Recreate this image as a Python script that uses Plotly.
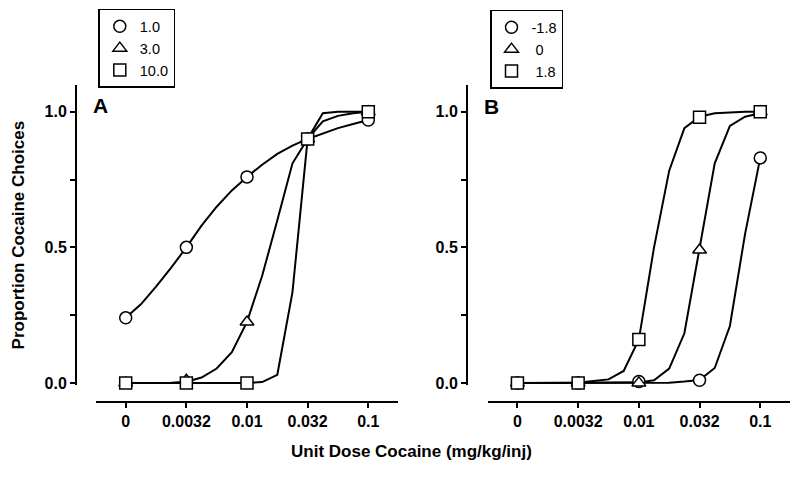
"""
Cocaine dose-response curves, panels A and B.
"""

import plotly.graph_objects as go

# x categories (drawn on an evenly spaced index axis)
dose_labels = ["0", "0.0032", "0.01", "0.032", "0.1"]
dose_pos = [0, 1, 2, 3, 4]

# positions of the fitted-curve vertices
fit_pos = [0, 0.25, 0.5, 0.75, 1, 1.25, 1.5, 1.75, 2,
           2.25, 2.5, 2.75, 3, 3.25, 3.5, 3.75, 4]

# panel A – observed points
a_names = ["1.0", "3.0", "10.0"]
a_circle = [0.24, 0.50, 0.76, 0.90, 0.97]
a_triangle = [0.0, 0.01, 0.225, 0.90, 1.0]
a_square = [0.0, 0.0, 0.0, 0.90, 1.0]

# panel A – fitted curves
a_circle_fit = [0.24, 0.29, 0.355, 0.425, 0.50, 0.58, 0.65, 0.71, 0.76,
                0.805, 0.845, 0.875, 0.90, 0.92, 0.94, 0.955, 0.97]
a_triangle_fit = [0.0, 0.0, 0.0, 0.001, 0.004, 0.02, 0.053, 0.113, 0.225,
                  0.395, 0.60, 0.81, 0.90, 0.965, 0.985, 0.995, 1.0]
a_square_fit = [0.0, 0.0, 0.0, 0.0, 0.0, 0.0, 0.0, 0.0, 0.0,
                0.003, 0.03, 0.335, 0.90, 0.995, 1.0, 1.0, 1.0]

# panel B – observed points
b_names = ["-1.8", "\u00a00", "\u00a01.8"]
b_circle = [0.0, 0.0, 0.005, 0.01, 0.83]
b_triangle = [0.0, 0.0, 0.0, 0.49, 1.0]
b_square = [0.0, 0.0, 0.16, 0.98, 1.0]

# panel B – fitted curves
b_circle_fit = [0.0, 0.0, 0.0, 0.0, 0.0, 0.0, 0.0, 0.0, 0.0,
                0.0, 0.001, 0.005, 0.011, 0.055, 0.21, 0.55, 0.83]
b_triangle_fit = [0.0, 0.0, 0.0, 0.0, 0.0, 0.0, 0.0, 0.001, 0.002,
                  0.01, 0.053, 0.183, 0.49, 0.81, 0.948, 0.982, 0.995]
b_square_fit = [0.0, 0.0, 0.0, 0.0, 0.001, 0.007, 0.013, 0.044, 0.16,
                0.50, 0.783, 0.94, 0.982, 0.995, 0.998, 1.0, 1.0]

FONT = "Arial, Liberation Sans, sans-serif"
symbols = ["circle", "triangle-up", "square"]

fig = go.Figure()

panels = [
    ("x", "y", "legend", a_names, [a_circle, a_triangle, a_square],
     [a_circle_fit, a_triangle_fit, a_square_fit]),
    ("x2", "y2", "legend2", b_names, [b_circle, b_triangle, b_square],
     [b_circle_fit, b_triangle_fit, b_square_fit]),
]

for xa, ya, leg, names, obs, fits in panels:
    for fit in fits:
        fig.add_trace(go.Scatter(
            x=fit_pos, y=fit, xaxis=xa, yaxis=ya,
            mode="lines", line=dict(color="black", width=2),
            showlegend=False, cliponaxis=False, hoverinfo="skip",
        ))
    for name, vals, sym in zip(names, obs, symbols):
        fig.add_trace(go.Scatter(
            x=dose_pos, y=vals, xaxis=xa, yaxis=ya, name=name, legend=leg,
            mode="markers", cliponaxis=False,
            marker=dict(symbol=sym, size=12, color="white",
                        line=dict(color="black", width=1.5)),
        ))

# the page viewport came out ~470px tall, so lay out against that height
W, H = 800, 470
# y=0 sits at 388.7px, 1.0 at 113.5px; range starts a hair below 0 so the
# baseline curves are not clipped
y_lo = -0.006
y_px = (388.7 - 113.5)
y_dom = [(H - 388.7 - (-y_lo) * y_px) / H, (H - 86) / H]
x_pos = (H - 408.5) / H

xaxis_style = dict(
    range=[-0.49, 4.49], tickvals=dose_pos, ticktext=dose_labels,
    showline=True, linewidth=2, linecolor="black",
    ticks="outside", ticklen=5, tickwidth=2, tickcolor="black",
    ticklabelstandoff=-1,
    showgrid=False, zeroline=False, anchor="free", position=x_pos,
    tickfont=dict(family=FONT, size=16, color="black", weight="bold"),
)
yaxis_style = dict(
    range=[y_lo, 1.1], domain=y_dom, tickvals=[0, 0.5, 1.0],
    ticktext=["0.0", "0.5", "1.0"],
    showline=True, linewidth=2, linecolor="black",
    ticks="outside", ticklen=5, tickwidth=2, tickcolor="black",
    minor=dict(tickvals=[0.25, 0.75], ticks="outside", ticklen=5,
               tickwidth=2, tickcolor="black"),
    showgrid=False, zeroline=False, anchor="free",
    tickfont=dict(family=FONT, size=16, color="black", weight="bold"),
)

legend_style = dict(
    xanchor="left", yanchor="top", bgcolor="white",
    bordercolor="black", borderwidth=1.5,
    font=dict(family=FONT, size=14.5, color="black"),
    itemclick=False, itemdoubleclick=False,
)


def label(text, x, y, size, **kw):
    return dict(text=text, x=x / W, y=(H - y) / H, xref="paper", yref="paper",
                xanchor="center", yanchor="middle", showarrow=False,
                font=dict(size=size, weight="bold"), **kw)


fig.update_layout(
    width=W, height=H,
    margin=dict(l=0, r=0, t=0, b=0),
    paper_bgcolor="white", plot_bgcolor="white",
    font=dict(family=FONT, color="black"),
    xaxis=dict(xaxis_style, domain=[96 / W, 398 / W]),
    xaxis2=dict(xaxis_style, domain=[487.7 / W, 790 / W]),
    yaxis=dict(yaxis_style, position=76 / W),
    yaxis2=dict(yaxis_style, position=467 / W),
    legend=dict(legend_style, x=98.3 / W, y=(H - 9) / H),
    legend2=dict(legend_style, x=490 / W, y=(H - 10) / H),
    annotations=[
        label("A", 100.5, 107.5, 21),
        label("B", 491.3, 108.3, 21),
        label("Unit Dose Cocaine (mg/kg/inj)", 411.4, 458.3, 17),
        label("Proportion Cocaine Choices", 18, 239, 17, textangle=-90),
    ],
    showlegend=True,
)

page_css = ("document.documentElement.style.overflow='hidden';"
            "document.body.style.margin='0';"
            "document.body.style.overflow='hidden';")
fig.write_html("out.html", config={"displayModeBar": False},
               post_script=page_css)
